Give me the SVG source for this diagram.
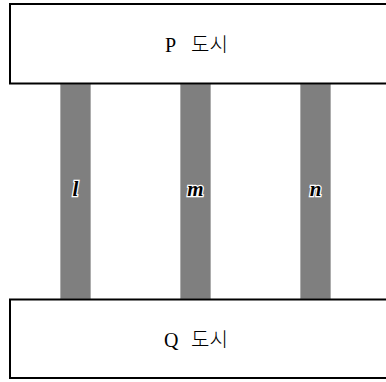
<svg xmlns="http://www.w3.org/2000/svg" width="386" height="382" viewBox="0 0 386 382">
<style>
.city{fill:#fff;stroke:#000;stroke-width:2}
.bar{fill:#7f7f7f;stroke:#a8a8a8;stroke-width:0.8}
.ct{font-family:"Liberation Serif","Noto Sans CJK KR",serif;font-size:20px;fill:#000}
.ko{font-family:"Noto Sans CJK KR",sans-serif;font-weight:300}
.lb{font-family:"Liberation Serif",serif;font-style:italic;font-weight:bold;font-size:21px;fill:#000;stroke:#fff;stroke-width:2.5;paint-order:stroke;text-anchor:middle}
</style>
<rect width="386" height="382" fill="#fff"/>
<g id="connectors">
<g id="road-l"><rect class="bar" x="60.5" y="84" width="30" height="215"/><text class="lb" x="75.5" y="196">l</text></g>
<g id="road-m"><rect class="bar" x="180.5" y="84" width="30" height="215"/><text class="lb" x="195.5" y="196">m</text></g>
<g id="road-n"><rect class="bar" x="300.5" y="84" width="30" height="215"/><text class="lb" x="315.5" y="196">n</text></g>
</g>
<g id="city-p"><rect class="city" x="10" y="4" width="390" height="79.5"/><text class="ct" x="165" y="52">P <tspan class="ko" x="191">도시</tspan></text></g>
<g id="city-q"><rect class="city" x="10" y="299.5" width="390" height="78.5"/><text class="ct" x="164" y="347">Q <tspan class="ko" x="191">도시</tspan></text></g>
</svg>
